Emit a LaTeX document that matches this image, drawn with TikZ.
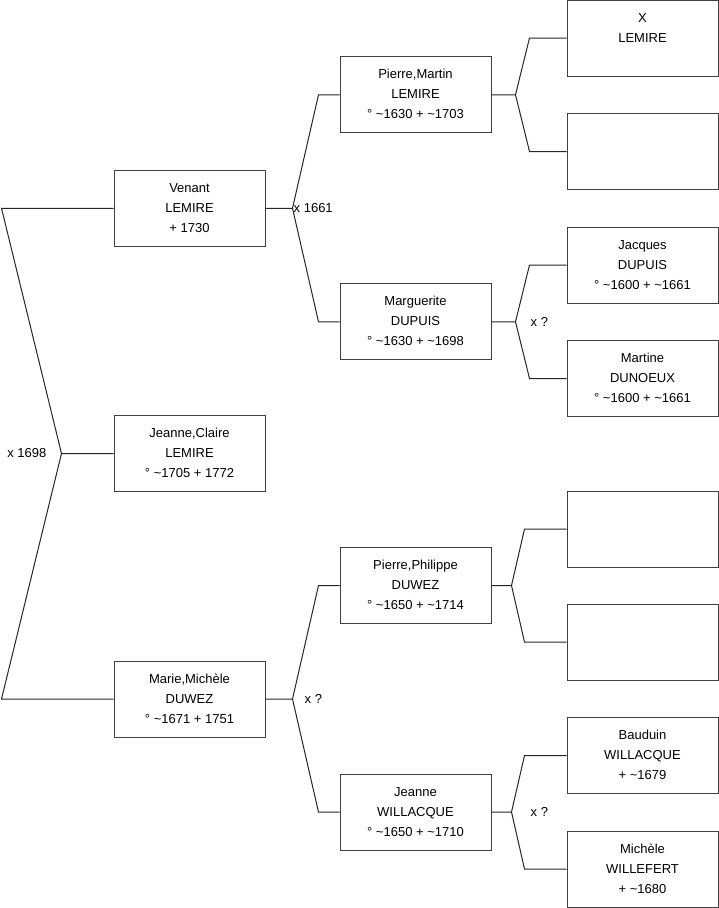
\documentclass[tikz,border=0pt]{standalone}
\usepackage{fontspec}
\setmainfont{Liberation Sans}
\newcommand{\tld}{\textasciitilde}
\newcommand{\pers}[3]{\strut #1\\#2\\#3\strut}
\begin{document}
\begin{tikzpicture}[x=1pt,y=-1pt,
  box/.style={draw=black!75, line width=1pt, minimum width=151pt, minimum height=76pt,
    inner sep=0pt, align=center, font=\fontsize{13}{20}\selectfont},
  conn/.style={draw=black!85, line width=1pt},
  lbl/.style={font=\fontsize{13}{16}\selectfont, inner sep=0pt}]
\useasboundingbox (0,0) rectangle (719,908);
% generation 0
\node[box] (venant) at (189.5,208.25) {\pers{Venant}{LEMIRE}{+ 1730}};
\node[box] (jc) at (189.5,453.5) {\pers{Jeanne,Claire}{LEMIRE}{° \tld1705 + 1772}};
\node[box] (marie) at (189.5,699) {\pers{Marie,Michèle}{DUWEZ}{° \tld1671 + 1751}};
% generation 1
\node[box] (pm) at (415.5,94.75) {\pers{Pierre,Martin}{LEMIRE}{° \tld1630 + \tld1703}};
\node[box] (mg) at (415.5,321.75) {\pers{Marguerite}{DUPUIS}{° \tld1630 + \tld1698}};
\node[box] (pp) at (415.5,585.5) {\pers{Pierre,Philippe}{DUWEZ}{° \tld1650 + \tld1714}};
\node[box] (jw) at (415.5,812) {\pers{Jeanne}{WILLACQUE}{° \tld1650 + \tld1710}};
% generation 2
\node[box] (xl) at (642.5,38) {\pers{X}{LEMIRE}{}};
\node[box] (b1) at (642.5,151.5) {};
\node[box] (jd) at (642.5,265) {\pers{Jacques}{DUPUIS}{° \tld1600 + \tld1661}};
\node[box] (md) at (642.5,378.5) {\pers{Martine}{DUNOEUX}{° \tld1600 + \tld1661}};
\node[box] (b2) at (642.5,529) {};
\node[box] (b3) at (642.5,642) {};
\node[box] (bw) at (642.5,755.5) {\pers{Bauduin}{WILLACQUE}{+ \tld1679}};
\node[box] (mw) at (642.5,869) {\pers{Michèle}{WILLEFERT}{+ \tld1680}};
% root fork
\draw[conn] (jc.west) -- ++(-52,0) coordinate (f0) -- ([xshift=-112pt]venant.west) -- (venant.west);
\draw[conn] (f0) -- ([xshift=-112pt]marie.west) -- (marie.west);
\node[lbl,anchor=east] at ([xshift=-15pt]f0) {x 1698};
% gen0 -> gen1
\draw[conn] (venant.east) -- ++(27,0) coordinate (f1) -- ([xshift=-21pt]pm.west) -- (pm.west);
\draw[conn] (f1) -- ([xshift=-21pt]mg.west) -- (mg.west);
\node[lbl,anchor=west] at ([xshift=1pt]f1) {x 1661};
\draw[conn] (marie.east) -- ++(27,0) coordinate (f2) -- ([xshift=-21pt]pp.west) -- (pp.west);
\draw[conn] (f2) -- ([xshift=-21pt]jw.west) -- (jw.west);
\node[lbl,anchor=west] at ([xshift=12pt]f2) {x ?};
% gen1 -> gen2
\draw[conn] (pm.east) -- ++(24,0) coordinate (f3) -- ([xshift=-37pt]xl.west) -- (xl.west);
\draw[conn] (f3) -- ([xshift=-37pt]b1.west) -- (b1.west);
\draw[conn] (mg.east) -- ++(24,0) coordinate (f4) -- ([xshift=-37pt]jd.west) -- (jd.west);
\draw[conn] (f4) -- ([xshift=-37pt]md.west) -- (md.west);
\node[lbl,anchor=west] at ([xshift=15pt]f4) {x ?};
\draw[conn] (pp.east) -- ++(20,0) coordinate (f5) -- ([xshift=-42pt]b2.west) -- (b2.west);
\draw[conn] (f5) -- ([xshift=-42pt]b3.west) -- (b3.west);
\draw[conn] (jw.east) -- ++(20,0) coordinate (f6) -- ([xshift=-42pt]bw.west) -- (bw.west);
\draw[conn] (f6) -- ([xshift=-42pt]mw.west) -- (mw.west);
\node[lbl,anchor=west] at ([xshift=19pt]f6) {x ?};
\end{tikzpicture}
\end{document}
